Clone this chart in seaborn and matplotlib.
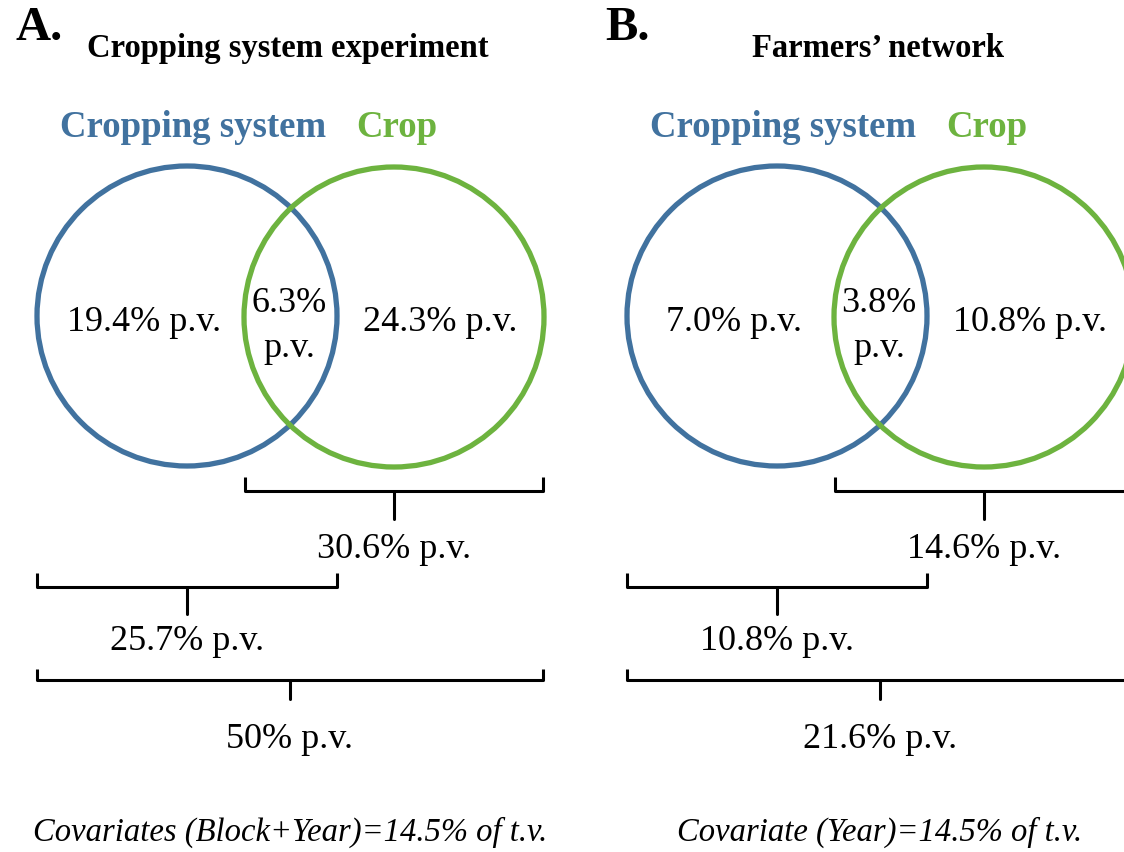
import matplotlib
matplotlib.use("Agg")
import matplotlib.pyplot as plt
from matplotlib.patches import Circle
import seaborn as sns

# panel data
panel_letters = ["A.", "B."]
panel_titles = ["Cropping system experiment", "Farmers\u2019 network"]
set_names = ["Cropping system", "Crop"]
only_system = ["19.4% p.v.", "7.0% p.v."]
shared = ["6.3%\np.v.", "3.8%\np.v."]
only_crop = ["24.3% p.v.", "10.8% p.v."]
crop_total = ["30.6% p.v.", "14.6% p.v."]
system_total = ["25.7% p.v.", "10.8% p.v."]
grand_total = ["50% p.v.", "21.6% p.v."]
covariates = ["Covariates (Block+Year)=14.5% of t.v.", "Covariate (Year)=14.5% of t.v."]

blue = "#41729F"
green = "#6DB33F"

sns.set_theme(style="white")
plt.rcParams["font.family"] = ["Liberation Serif", "DejaVu Serif"]
plt.rcParams["text.color"] = "black"

fig = plt.figure(figsize=(11.24, 8.53), dpi=100)
ax = fig.add_axes([0, 0, 1, 1])
ax.set_xlim(0, 1124)
ax.set_ylim(853, 0)
ax.set_axis_off()

offsets = [0, 590]
r = 150
fs = 26


def bracket(x0, x1, ytop, yline, xtick, ybot):
    ax.plot([x0, x0, x1, x1], [ytop, yline, yline, ytop], color="black",
            lw=2.2, solid_joinstyle="round", solid_capstyle="butt")
    ax.plot([xtick, xtick], [yline, ybot], color="black", lw=2.2)


for i, dx in enumerate(offsets):
    cb = 187 + dx
    cg = 394 + dx
    ax.text(15 + dx, 40, panel_letters[i], fontsize=35, fontweight="bold",
            ha="left", va="baseline")
    ax.text(288 + dx, 57, panel_titles[i], fontsize=23.5, fontweight="bold",
            ha="center", va="baseline")
    ax.text(193 + dx, 137, set_names[0], fontsize=26.5, fontweight="bold",
            color=blue, ha="center", va="baseline")
    ax.text(397 + dx, 137, set_names[1], fontsize=26.5, fontweight="bold",
            color=green, ha="center", va="baseline")

    ax.add_patch(Circle((cb, 317), r, fill=False, ec=blue, lw=3.8))
    ax.add_patch(Circle((cg, 318), r, fill=False, ec=green, lw=3.8))

    ax.text(144 + dx, 322, only_system[i], fontsize=fs, ha="center", va="center")
    ax.text(289 + dx, 326, shared[i], fontsize=fs, ha="center", va="center",
            linespacing=1.5)
    ax.text(440 + dx, 322, only_crop[i], fontsize=fs, ha="center", va="center")

    bracket(245 + dx, 543 + dx, 478, 492, cg, 520)
    ax.text(cg, 550, crop_total[i], fontsize=fs, ha="center", va="center")
    bracket(37 + dx, 337 + dx, 574, 588, cb, 615)
    ax.text(cb, 641, system_total[i], fontsize=fs, ha="center", va="center")
    bracket(37 + dx, 543 + dx, 670, 681, 290 + dx, 700)
    ax.text(290 + dx, 740, grand_total[i], fontsize=fs, ha="center", va="center")

    ax.text(290 + dx, 832, covariates[i], fontsize=23.5, fontstyle="italic",
            ha="center", va="center")

fig.savefig("out.png", dpi=100, facecolor="white")
